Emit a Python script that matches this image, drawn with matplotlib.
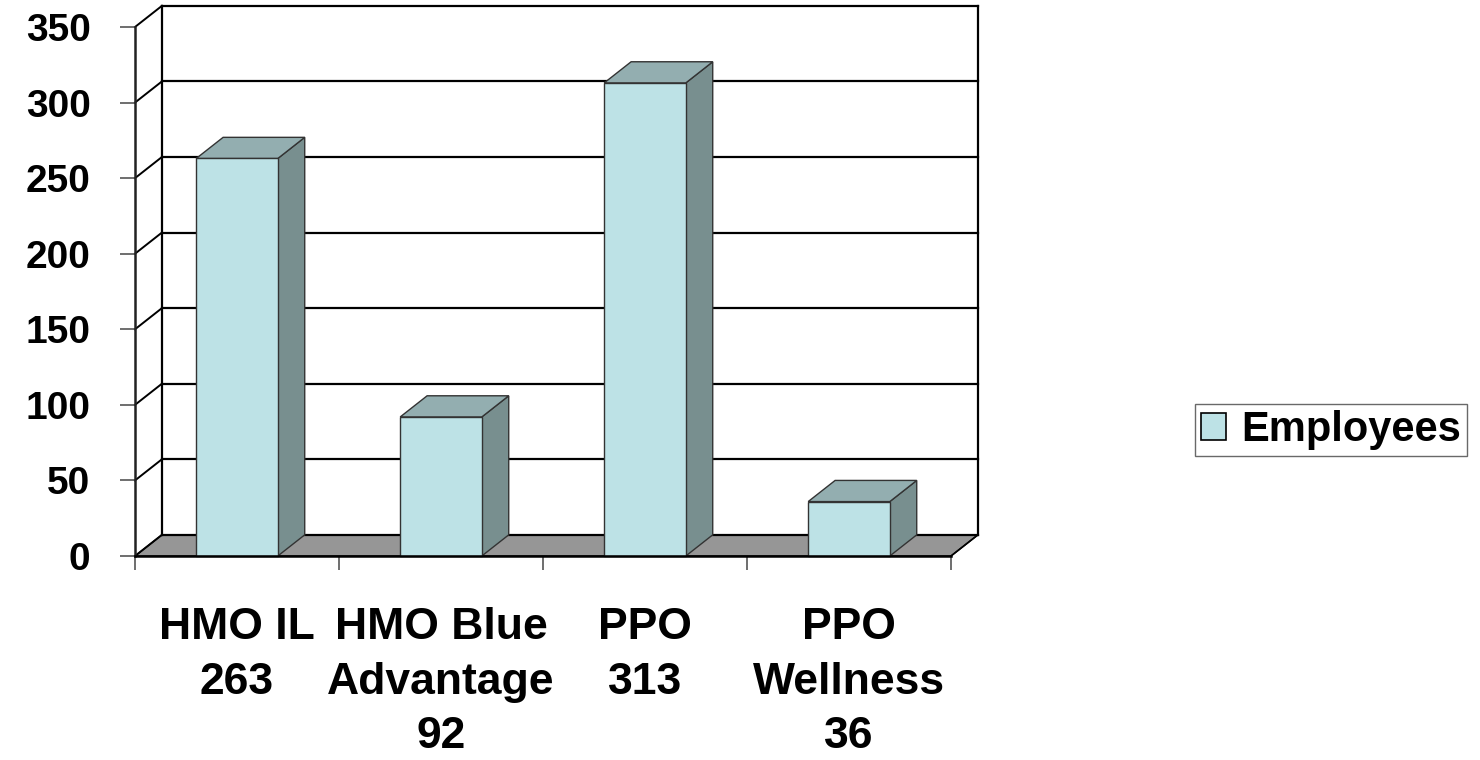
import matplotlib.pyplot as plt
from matplotlib.patches import Polygon, Rectangle, Patch

# data
categories = ['HMO IL\n263', 'HMO Blue\nAdvantage\n92', 'PPO\n313', 'PPO\nWellness\n36']
employees = [263, 92, 313, 36]
yticks = [0, 50, 100, 150, 200, 250, 300, 350]

plt.rcParams['font.family'] = ['Liberation Sans', 'DejaVu Sans']
plt.rcParams['font.weight'] = 'bold'

fig = plt.figure(figsize=(14.8, 7.6), dpi=100)
ax = fig.add_axes([135 / 1480, 1 - 556 / 760, 816 / 1480, 529 / 760])
ax.set_xlim(0, len(categories))
ax.set_ylim(0, 350)

# depth offset of the 3d box (data units)
DX, DY = 0.132, 14
front_c, top_c, side_c = '#bde2e6', '#93aeb0', '#788f8f'
n = len(categories)

# floor
ax.add_patch(Polygon([(0, 0), (n, 0), (n + DX, DY), (DX, DY)], closed=True,
                     facecolor='#969696', edgecolor='black', lw=1, clip_on=False, zorder=1))

# back wall gridlines and side wall diagonals
for y in yticks:
    ax.plot([DX, n + DX], [y + DY, y + DY], color='black', lw=1.6, clip_on=False, zorder=1.5)
    ax.plot([0, DX], [y, y + DY], color='black', lw=1.4, clip_on=False, zorder=1.5)
ax.plot([DX, DX], [DY, 350 + DY], color='black', lw=1.6, clip_on=False, zorder=1.5)
ax.plot([n + DX, n + DX], [DY, 350 + DY], color='black', lw=1.6, clip_on=False, zorder=1.5)
ax.plot([n, n + DX], [0, DY], color='black', lw=1.2, clip_on=False, zorder=1.5)

# bars
w = 0.4
for i, v in enumerate(employees):
    x0 = i + 0.5 - w / 2
    x1 = x0 + w
    ax.add_patch(Polygon([(x1, 0), (x1 + DX, DY), (x1 + DX, v + DY), (x1, v)], closed=True,
                         facecolor=side_c, edgecolor='#333333', lw=1, clip_on=False, zorder=3))
    ax.add_patch(Polygon([(x0, v), (x1, v), (x1 + DX, v + DY), (x0 + DX, v + DY)], closed=True,
                         facecolor=top_c, edgecolor='#333333', lw=1, clip_on=False, zorder=3))
    ax.add_patch(Rectangle((x0, 0), w, v, facecolor=front_c, edgecolor='#333333',
                           lw=1, clip_on=False, zorder=3))

# axes styling
for s in ['top', 'right']:
    ax.spines[s].set_visible(False)
ax.spines['left'].set_color('#222222')
ax.spines['left'].set_linewidth(1.8)
ax.spines['bottom'].set_color('black')
ax.spines['bottom'].set_linewidth(1.8)
ax.spines['bottom'].set_zorder(4)
ax.set_facecolor('none')

ax.set_yticks(yticks)
ax.tick_params(axis='y', length=11, width=1.2, color='#555555', labelsize=28, pad=21)
ax.set_xticks(range(n + 1))
ax.set_xticklabels([])
ax.tick_params(axis='x', which='major', length=10, width=1.2, color='#555555')
ax.set_xticks([i + 0.5 for i in range(n)], minor=True)
ax.set_xticklabels(categories, minor=True, linespacing=1.42)
ax.tick_params(axis='x', which='minor', length=0, labelsize=32, pad=37)

fig.legend(handles=[Patch(facecolor=front_c, edgecolor='black', lw=1.2)], labels=['Employees'],
           loc='center', bbox_to_anchor=(1331 / 1480, 1 - 430 / 760), fontsize=30,
           frameon=True, fancybox=False, edgecolor='#444444', handlelength=0.6,
           handleheight=0.6, handletextpad=0.35, borderpad=0.15, borderaxespad=0)

fig.savefig('out.png', dpi=100)
